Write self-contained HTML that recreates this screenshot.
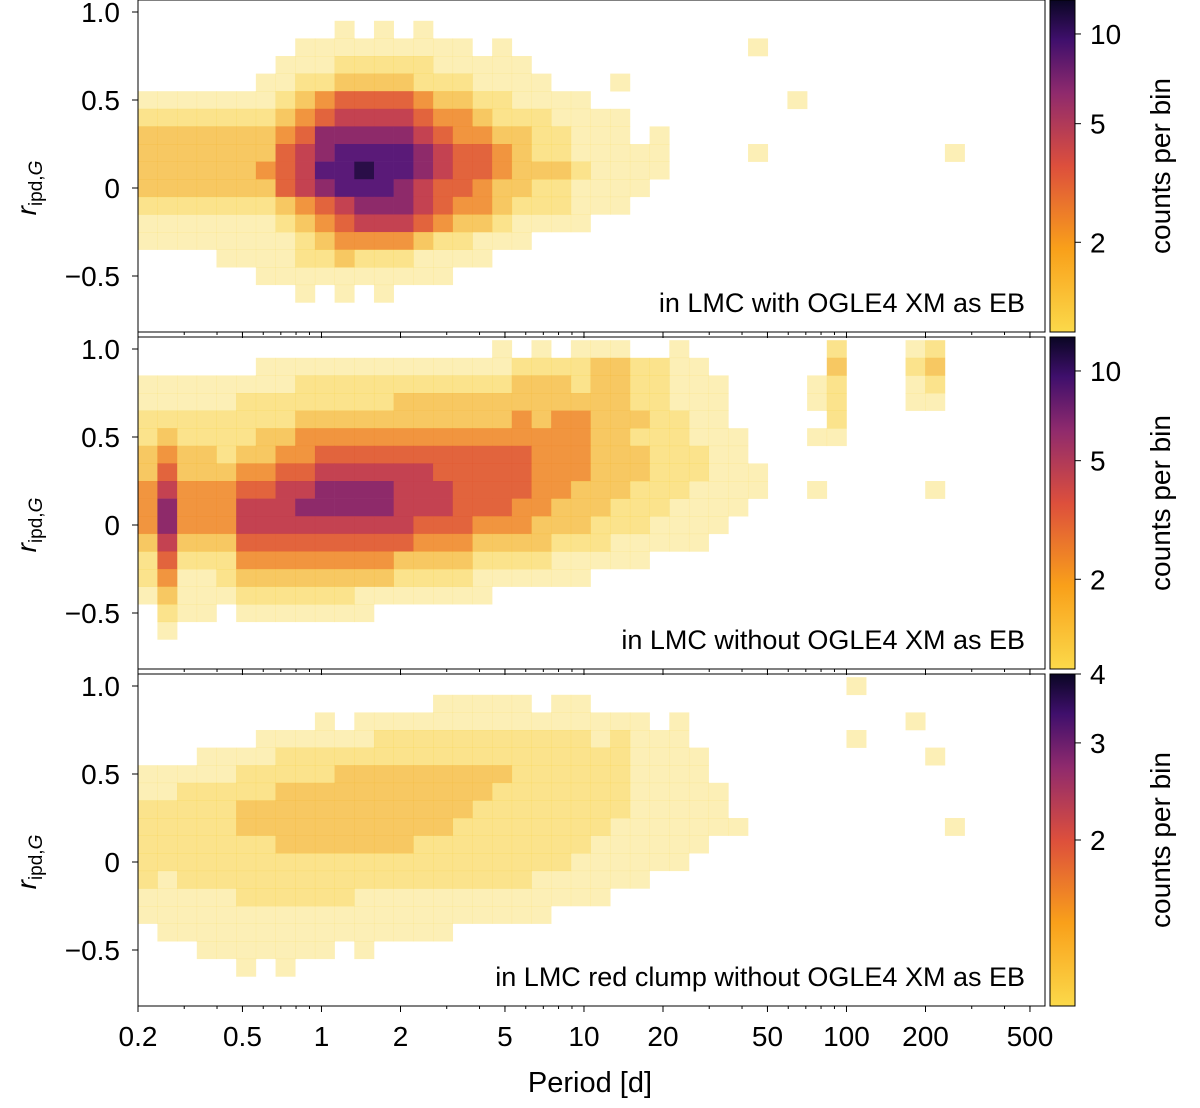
<!DOCTYPE html>
<html><head><meta charset="utf-8"><style>
body{margin:0;background:#fff;font-family:"Liberation Sans",sans-serif}
svg text{font-family:"Liberation Sans","DejaVu Sans",sans-serif}
</style></head><body>
<svg id="chart" width="1200" height="1103" xmlns="http://www.w3.org/2000/svg">
<defs>
<linearGradient id="cmap" x1="0" y1="1" x2="0" y2="0">
<stop offset="0" stop-color="#fbd94a"/><stop offset="0.25" stop-color="#f9a01a"/>
<stop offset="0.5" stop-color="#dd4f3c"/><stop offset="0.72" stop-color="#8f2a6d"/>
<stop offset="0.88" stop-color="#3f0f6c"/><stop offset="1" stop-color="#0a0624"/>
</linearGradient>
</defs>
</svg>
<script>
const binStartLog = -0.7;
const binStepLog = 0.075;
const rowTop = 1.05;
const rowStep = 0.1;
const xTickValues = [0.2, 0.5, 1, 2, 5, 10, 20, 50, 100, 200, 500];
const xTickLabels = ["0.2","0.5","1","2","5","10","20","50","100","200","500"];
const yTickValues = [1.0, 0.5, 0, -0.5];
const yTickLabels = ["1.0","0.5","0","\u22120.5"];
const panelTitles = ["in LMC with OGLE4 XM as EB","in LMC without OGLE4 XM as EB","in LMC red clump without OGLE4 XM as EB"];
const cbarTicks1 = [10, 5, 2];
const cbarTicks2 = [10, 5, 2];
const cbarTicks3 = [4, 3, 2];
const densityPanel1 = [
"0000000000000000000000000000000000000000000000",
"0000000000101010000000000000000000000000000000",
"0000000011111111101000000000000100000000000000",
"0000000111222221111100000000000000000000000000",
"0000001122333322211110001000000000000000000000",
"1111111234555543322111100000000001000000000000",
"2222222345666654432221111000000000000000000000",
"3333333457777765443322111010000000000000000000",
"3333333567888876554322111110000100000000010000",
"3333334568898876554333211110000000000000000000",
"3333333567888765543322111100000000000000000000",
"2222222345677765443222111000000000000000000000",
"1111111234566654332111100000000000000000000000",
"1111111123444432211100000000000000000000000000",
"0000111122322211110000000000000000000000000000",
"0000001111111111000000000000000000000000000000",
"0000000010101000000000000000000000000000000000",
"0000000000000000000000000000000000000000000000",
"0000000000000000000000000000000000000000000000"];
const densityPanel2 = [
"0000000000000000001010111001000000020001200000",
"0000001111111111111222233221100000030002300000",
"1111111122222222222333233221110000120001200000",
"1111122222222333333333333221110000120001100000",
"2222222233333333333434433322110000020000000000",
"2322223344444444444444433222111000110000000000",
"3433233445555555555544433322211000000000000000",
"3533344556666665555544433322211100000000000000",
"4644455667777666555544333222111100100000100000",
"4744466677777666555443332221111000000000000000",
"4744466666666655544433322211110000000000000000",
"3633355555555544433332221111100000000000000000",
"2522244444444333322221111100000000000000000000",
"2411233333333222211111100000000000000000000000",
"1311122222211111110000000000000000000000000000",
"0211011111110000000000000000000000000000000000",
"0100000000000000000000000000000000000000000000",
"0000000000000000000000000000000000000000000000",
"0000000000000000000000000000000000000000000000"];
const densityPanel3 = [
"0000000000000000000000000000000000001000000000",
"0000000000000001111101100000000000000000000000",
"0000000001011111111111111101000000000001000000",
"0000001111112222222222212111000000001000000000",
"0001111222222222222222222111100000000000100000",
"1111122222333333333222222111100000000000000000",
"1122222333333333332222222111110000000000000000",
"2222233333333333322222222111110000000000000000",
"2222233333333333222222221111111000000000010000",
"2222222333333322222222211111100000000000000000",
"2222222222222222222222111111000000000000000000",
"2122222222222222222211111100000000000000000000",
"1111122222211111111111110000000000000000000000",
"1111111111111111111110000000000000000000000000",
"0111111111111111000000000000000000000000000000",
"0001111111010000000000000000000000000000000000",
"0000010100000000000000000000000000000000000000",
"0000000000000000000000000000000000000000000000",
"0000000000000000000000000000000000000000000000"];
const levelColors = ["#fff","#f8d848","#f8d040","#f5b836","#f08a2a","#e0582e","#c23a4a","#8e2a6a","#5a1a78","#2a0e48"];
const levelAlpha = [0,0.4,0.6,0.78,0.9,0.93,0.96,1,1,1];

const NS = "http://www.w3.org/2000/svg";
const svg = document.getElementById('chart');
const L = 138, R = 1045, pxPerDec = 262.5;
const xScale = p => L + (Math.log10(p) - Math.log10(0.2)) * pxPerDec;
const xLog = lg => L + (lg - Math.log10(0.2)) * pxPerDec;
const panels = [{top:0,zero:188},{top:337,zero:525},{top:674,zero:862}];
const H = 332, pxPerUnit = 176;
function mk(tag, attrs, parent){const e=document.createElementNS(NS,tag);for(const k in attrs)e.setAttribute(k,attrs[k]);(parent||svg).appendChild(e);return e;}
const grids = [densityPanel1, densityPanel2, densityPanel3];
const cbTicks = [cbarTicks1, cbarTicks2, cbarTicks3];
const cbRanges = [[1,13],[1,13],[1,4]];
panels.forEach((p, pi) => {
  const yScale = v => p.zero - v * pxPerUnit;
  const g = mk('g', {});
  
  
  const clip = mk('clipPath', {id:'clip'+pi}, g);
  mk('rect', {x:L, y:p.top, width:R-L, height:H}, clip);
  const cells = mk('g', {'clip-path':'url(#clip'+pi+')'}, g);
  
  
  grids[pi].forEach((row, ri) => {
    for (let ci = 0; ci < row.length; ci++) {
      const lv = +row[ci]; if (!lv) continue;
      const x0 = xLog(binStartLog + ci*binStepLog), x1 = xLog(binStartLog + (ci+1)*binStepLog);
      const y0 = yScale(rowTop - ri*rowStep), y1 = yScale(rowTop - (ri+1)*rowStep);
      const c = mk('rect', {x:x0, y:y0, width:x1-x0+0.3, height:y1-y0+0.3, fill:levelColors[lv], 'fill-opacity':levelAlpha[lv]}, cells);
      
      
    }
  });
  const frame = mk('rect', {x:L, y:p.top, width:R-L, height:H, fill:'none', stroke:'#000', 'stroke-width':1}, g);
  
  
  yTickValues.forEach((v, i) => {
    const y = yScale(v);
    mk('line', {x1:L-6, x2:L, y1:y, y2:y, stroke:'#000'}, g);
    const t = mk('text', {x:L-18, y:y+10, 'text-anchor':'end', 'font-size':28}, g);
    t.textContent = yTickLabels[i];
    
    
  });
  xTickValues.forEach(v => { mk('line', {x1:xScale(v), x2:xScale(v), y1:p.top+H, y2:p.top+H+6, stroke:'#000'}, g); });
  for (let d=-1; d<=2; d++) for (let m=2; m<=9; m++) { const v=m*Math.pow(10,d); if (v<0.2||v>570) continue; mk('line',{x1:xScale(v),x2:xScale(v),y1:p.top+H,y2:p.top+H+3,stroke:'#000'},g); }
  const ylab = mk('text', {x:0, y:0, transform:'translate(36,'+(p.zero)+') rotate(-90)', 'text-anchor':'middle', 'font-size':28, 'font-style':'italic'}, g);
  ylab.innerHTML = 'r<tspan font-size="19" dy="6" font-style="normal">ipd,</tspan><tspan font-size="19" font-style="italic">G</tspan>';
  
  
  const ttl = mk('text', {x:1025, y:p.top+312, 'text-anchor':'end', 'font-size':27}, g);
  ttl.textContent = panelTitles[pi];
  
  
  const cb = mk('rect', {x:1050, y:p.top, width:25, height:H, fill:'url(#cmap)', stroke:'#000', 'stroke-width':1}, g);
  
  
  const [lo, hi] = cbRanges[pi];
  cbTicks[pi].forEach(v => {
    const y = p.top + H - (Math.log(v)-Math.log(lo))/(Math.log(hi)-Math.log(lo))*H;
    mk('line', {x1:1075, x2:1081, y1:y, y2:y, stroke:'#000'}, g);
    const t = mk('text', {x:1090, y:y+10, 'font-size':28}, g);
    t.textContent = v;
    
    
  });
  const cl = mk('text', {x:0, y:0, transform:'translate(1170,'+(p.top+H/2)+') rotate(-90)', 'text-anchor':'middle', 'font-size':28}, g);
  cl.textContent = 'counts per bin';
  
  
});
xTickValues.forEach((v, i) => {
  const t = mk('text', {x:xScale(v), y:1046, 'text-anchor':'middle', 'font-size':28});
  t.textContent = xTickLabels[i];
  
  
});
const xt = mk('text', {x:590, y:1092, 'text-anchor':'middle', 'font-size':29});
xt.textContent = 'Period [d]';


</script>
</body></html>
